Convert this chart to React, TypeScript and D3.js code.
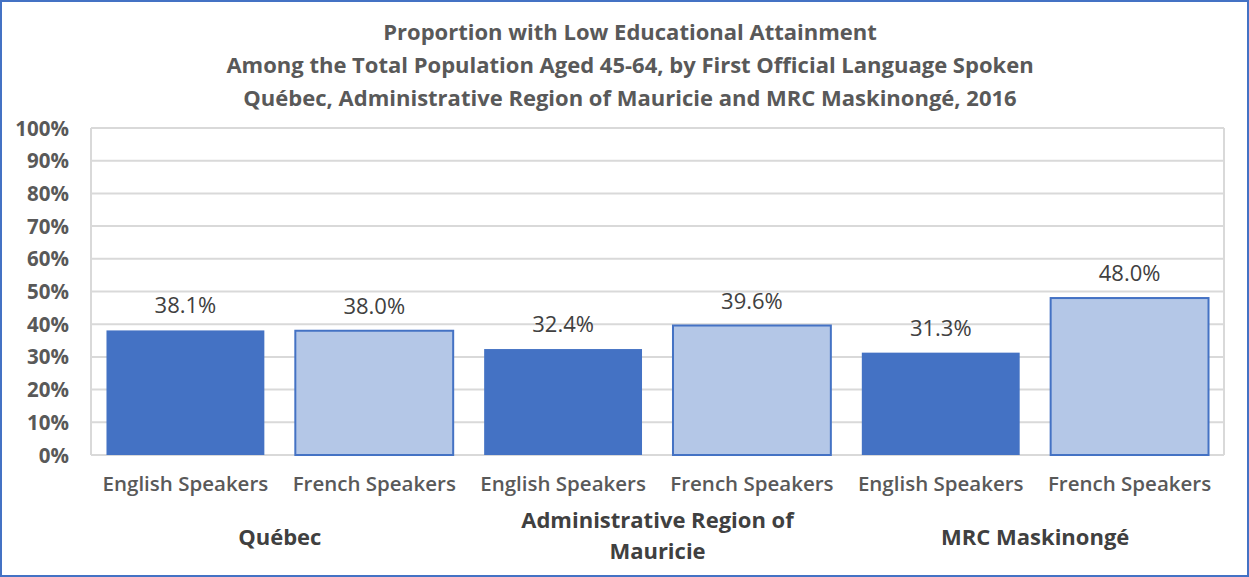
import React, { useEffect, useRef } from "react";
import * as d3 from "d3";

const categories = [
  "English Speakers",
  "French Speakers",
  "English Speakers",
  "French Speakers",
  "English Speakers",
  "French Speakers",
];
const values = [38.1, 38.0, 32.4, 39.6, 31.3, 48.0];
const groups = [["Québec"], ["Administrative Region of", "Mauricie"], ["MRC Maskinongé"]];
const yTicks = [0, 10, 20, 30, 40, 50, 60, 70, 80, 90, 100];
const titleLines = [
  "Proportion with Low Educational Attainment",
  "Among the Total Population Aged 45-64, by First Official Language Spoken",
  "Québec, Administrative Region of Mauricie and MRC Maskinongé, 2016",
];

const W = 1249;
const H = 577;
const FONT = "'Open Sans', 'Noto Sans', sans-serif";

const App = () => {
  const ref = useRef<SVGSVGElement>(null);

  useEffect(() => {
    const svg = d3.select(ref.current);
    svg.selectAll("*").remove();

    const left = 91;
    const right = 1224;
    const top = 128;
    const bottom = 455;

    const x = d3
      .scaleBand<number>()
      .domain(categories.map((c, i) => i))
      .range([left, right])
      .paddingInner(0.164)
      .paddingOuter(0.082);
    const y = d3.scaleLinear().domain([0, 100]).range([bottom, top]);

    svg
      .append("rect")
      .attr("x", 1)
      .attr("y", 1)
      .attr("width", W - 2)
      .attr("height", H - 2)
      .attr("fill", "white")
      .attr("stroke", "#4472C4")
      .attr("stroke-width", 2);

    svg
      .selectAll(".title")
      .data(titleLines)
      .join("text")
      .attr("class", "title")
      .attr("x", 630)
      .attr("y", (d, i) => 40 + i * 33)
      .attr("text-anchor", "middle")
      .attr("font-family", FONT)
      .attr("font-weight", "bold")
      .attr("font-size", 22)
      .attr("fill", "#595959")
      .text((d) => d);

    // grid
    svg
      .selectAll(".grid")
      .data(yTicks)
      .join("line")
      .attr("class", "grid")
      .attr("x1", left)
      .attr("x2", right)
      .attr("y1", (d) => y(d))
      .attr("y2", (d) => y(d))
      .attr("stroke", "#d9d9d9")
      .attr("stroke-width", 2);
    [left, right].forEach((gx) => {
      svg
        .append("line")
        .attr("x1", gx)
        .attr("x2", gx)
        .attr("y1", top)
        .attr("y2", bottom)
        .attr("stroke", "#d9d9d9")
        .attr("stroke-width", 2);
    });

    svg
      .selectAll(".ytick")
      .data(yTicks)
      .join("text")
      .attr("class", "ytick")
      .attr("x", 69)
      .attr("y", (d) => y(d) + 7.5)
      .attr("text-anchor", "end")
      .attr("font-family", FONT)
      .attr("font-weight", "bold")
      .attr("font-size", 20.5)
      .attr("fill", "#595959")
      .text((d) => d + "%");

    svg
      .selectAll(".bar")
      .data(values)
      .join("rect")
      .attr("class", "bar")
      .attr("x", (d, i) => x(i)!)
      .attr("width", x.bandwidth())
      .attr("y", (d) => y(d))
      .attr("height", (d) => bottom - y(d))
      .attr("fill", (d, i) => (i % 2 === 0 ? "#4472C4" : "#B4C7E7"))
      .attr("stroke", (d, i) => (i % 2 === 0 ? "none" : "#4472C4"))
      .attr("stroke-width", 2);

    svg
      .selectAll(".lbl")
      .data(values)
      .join("text")
      .attr("class", "lbl")
      .attr("x", (d, i) => x(i)! + x.bandwidth() / 2)
      .attr("y", (d) => y(d) - 17)
      .attr("text-anchor", "middle")
      .attr("font-family", FONT)
      .attr("font-size", 22)
      .attr("fill", "#404040")
      .text((d) => d.toFixed(1) + "%");

    svg
      .selectAll(".cat")
      .data(categories)
      .join("text")
      .attr("class", "cat")
      .attr("x", (d, i) => x(i)! + x.bandwidth() / 2)
      .attr("y", 491)
      .attr("text-anchor", "middle")
      .attr("font-family", FONT)
      .attr("font-weight", 600)
      .attr("font-size", 20.5)
      .attr("fill", "#595959")
      .text((d) => d);

    const step = x.step();
    groups.forEach((lines, g) => {
      const cx = left + step * (2 * g + 1);
      const y0 = lines.length === 1 ? 545 : 528;
      lines.forEach((line, k) => {
        svg
          .append("text")
          .attr("x", cx)
          .attr("y", y0 + k * 31)
          .attr("text-anchor", "middle")
          .attr("font-family", FONT)
          .attr("font-weight", "bold")
          .attr("font-size", 22)
          .attr("fill", "#404040")
          .text(line);
      });
    });
  }, []);

  return (
    <svg
      ref={ref}
      width={W}
      height={H}
      style={{ position: "absolute", left: 0, top: 0 }}
    />
  );
};

export default App;
